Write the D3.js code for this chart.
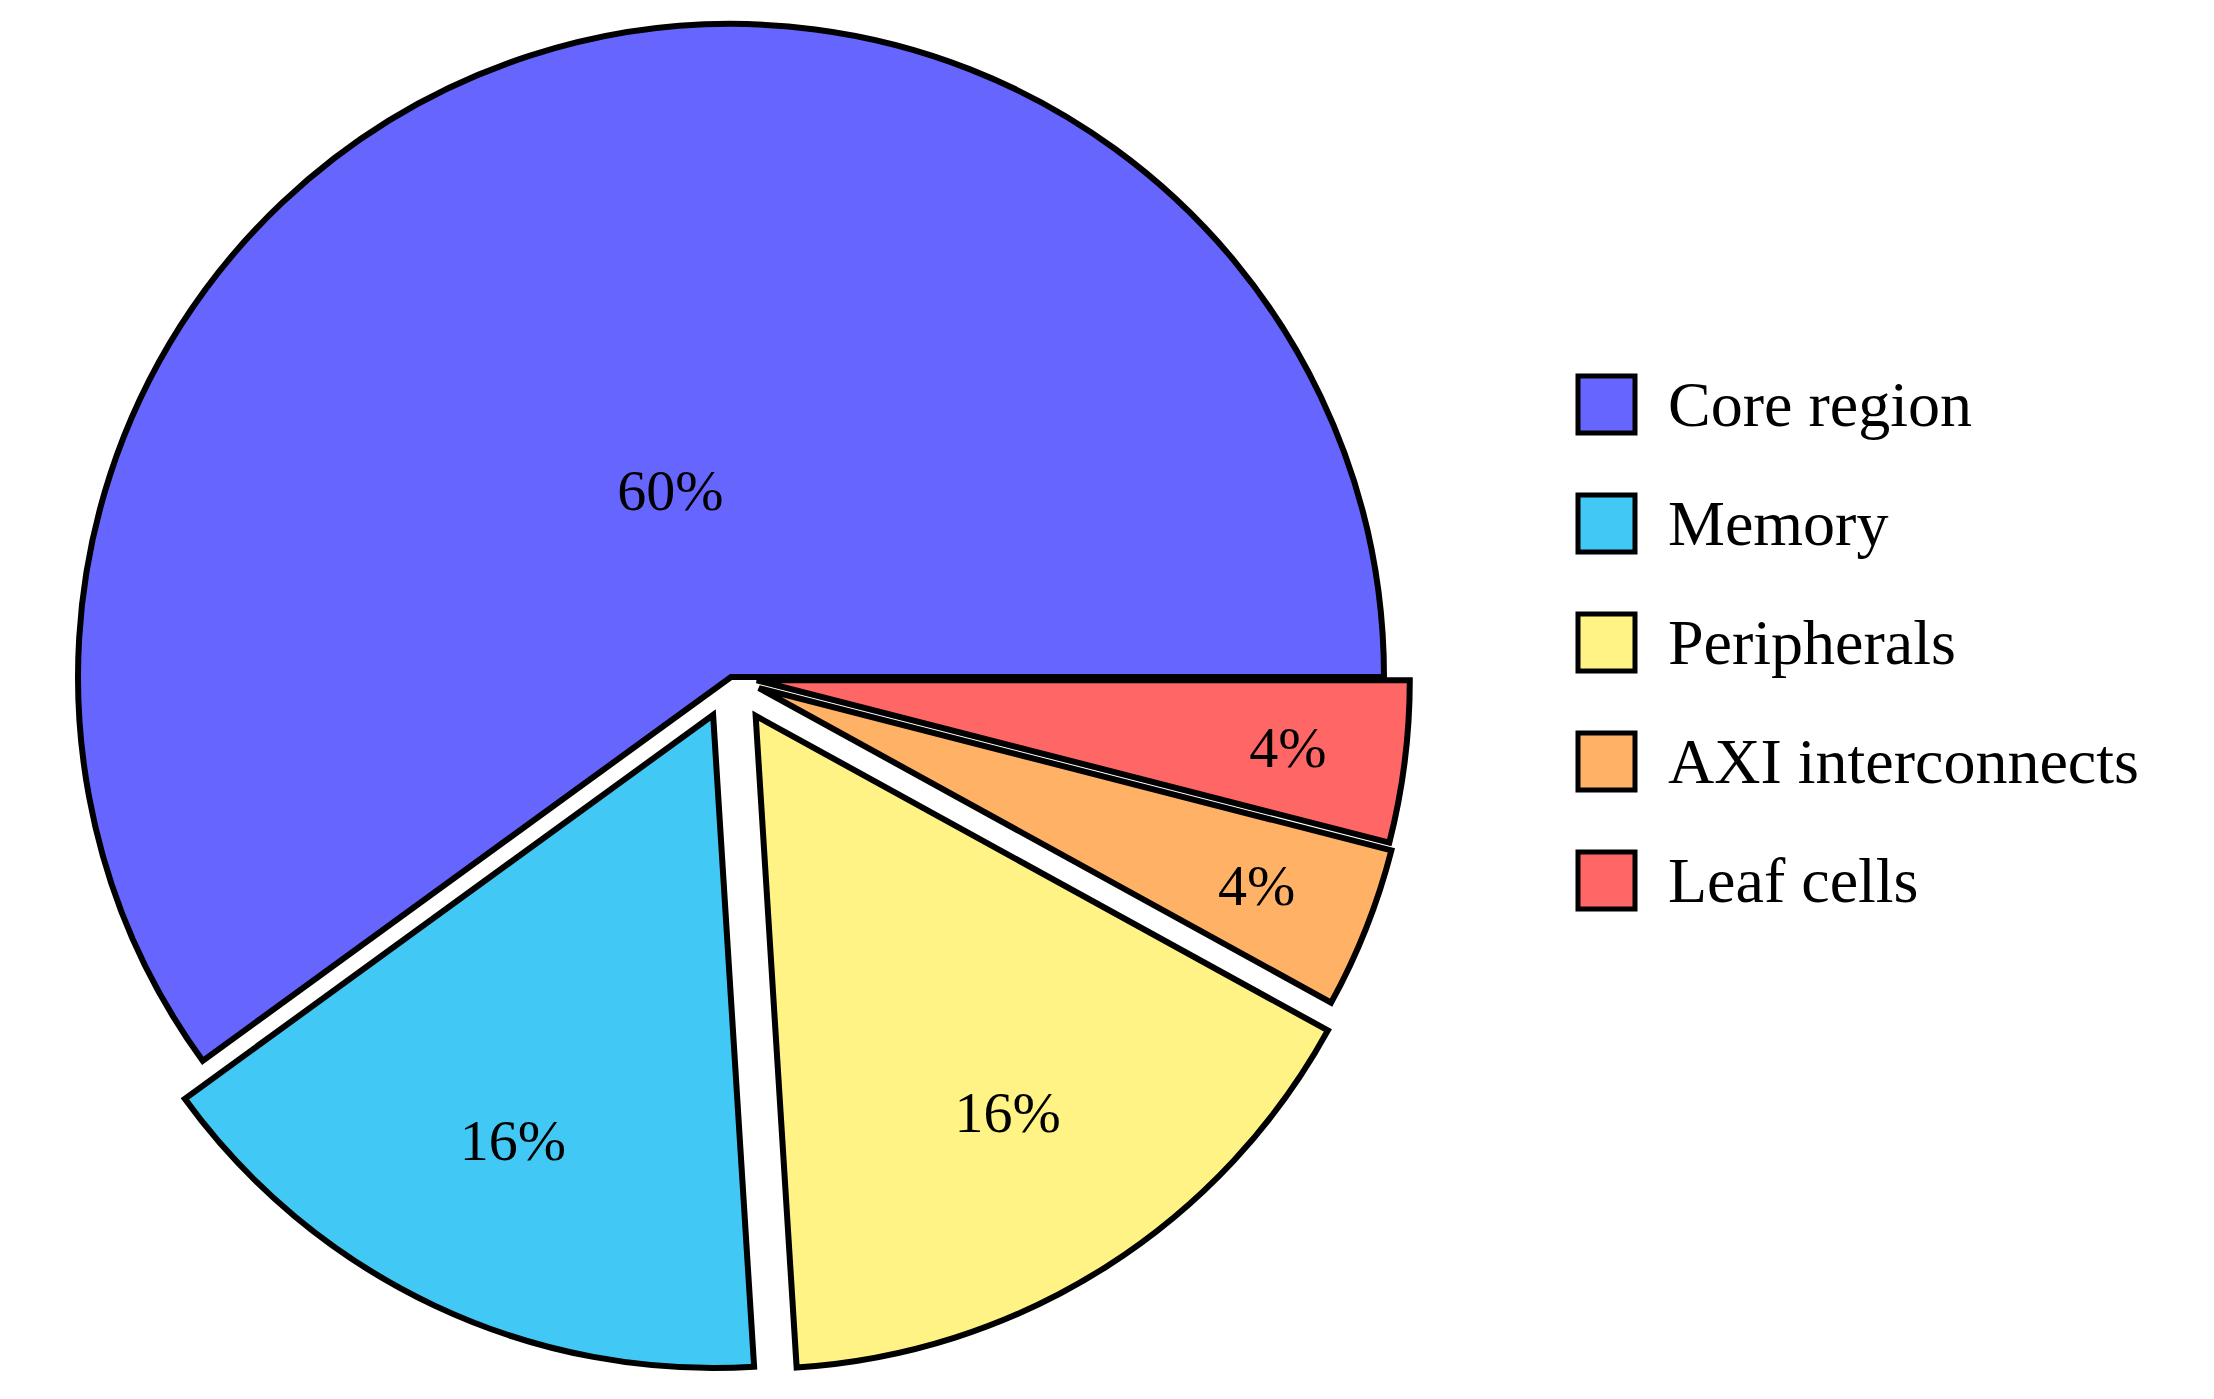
<!DOCTYPE html>
<html>
<head>
<meta charset="utf-8">
<script src="https://cdn.jsdelivr.net/npm/d3@7"></script>
<style>
body { margin: 0; background: #fff; }
</style>
</head>
<body>
<svg id="chart" width="2214" height="1399"></svg>
<script>
const categories = ["Core region", "Memory", "Peripherals", "AXI interconnects", "Leaf cells"];
const values = [60, 16, 16, 4, 4];
const colors = ["#6666ff", "#42c8f4", "#fff385", "#ffb266", "#ff6666"];

const svg = d3.select("#chart");
const cx = 731, cy = 677, r = 653;
// how far each slice is pulled out of the pie
const explode = [0, 42, 46, 30, 26];
// where each label sits, as a fraction of the radius
const labelPos = [0.3, 0.72, 0.72, 0.82, 0.82];

// core starts at 3 o'clock and runs counterclockwise
const pie = d3.pie().sort(null)
    .startAngle(Math.PI / 2)
    .endAngle(Math.PI / 2 - 2 * Math.PI);
const arcs = pie(values);
const arc = d3.arc().innerRadius(0).outerRadius(r);

const g = svg.append("g").attr("transform", `translate(${cx},${cy})`);

arcs.forEach(function(d, i) {
    const mid = (d.startAngle + d.endAngle) / 2;
    const dx = Math.sin(mid) * explode[i], dy = -Math.cos(mid) * explode[i];
    const s = g.append("g").attr("transform", `translate(${dx},${dy})`);
    s.append("path")
        .attr("d", arc(d))
        .attr("fill", colors[i])
        .attr("stroke", "#000")
        .attr("stroke-width", 6)
        .attr("stroke-linejoin", "miter");
    const lr = labelPos[i] * r;
    s.append("text")
        .attr("x", Math.sin(mid) * lr)
        .attr("y", -Math.cos(mid) * lr)
        .attr("text-anchor", "middle")
        .attr("dominant-baseline", "central")
        .attr("font-family", "'Liberation Serif', 'DejaVu Serif', serif")
        .attr("font-size", 58)
        .text(values[i] + "%");
});

// legend
const legend = svg.append("g").attr("transform", "translate(1578,376)");
const rowY = d3.scaleBand().domain(categories).range([0, 590]).paddingInner(0.0);
categories.forEach(function(c, i) {
    const y = i * 119;
    legend.append("rect")
        .attr("x", 0).attr("y", y)
        .attr("width", 57).attr("height", 57)
        .attr("fill", colors[i])
        .attr("stroke", "#000")
        .attr("stroke-width", 5);
    legend.append("text")
        .attr("x", 90).attr("y", y + 28)
        .attr("dominant-baseline", "central")
        .attr("font-family", "'Liberation Serif', 'DejaVu Serif', serif")
        .attr("font-size", 64)
        .text(c);
});
</script>
</body>
</html>
